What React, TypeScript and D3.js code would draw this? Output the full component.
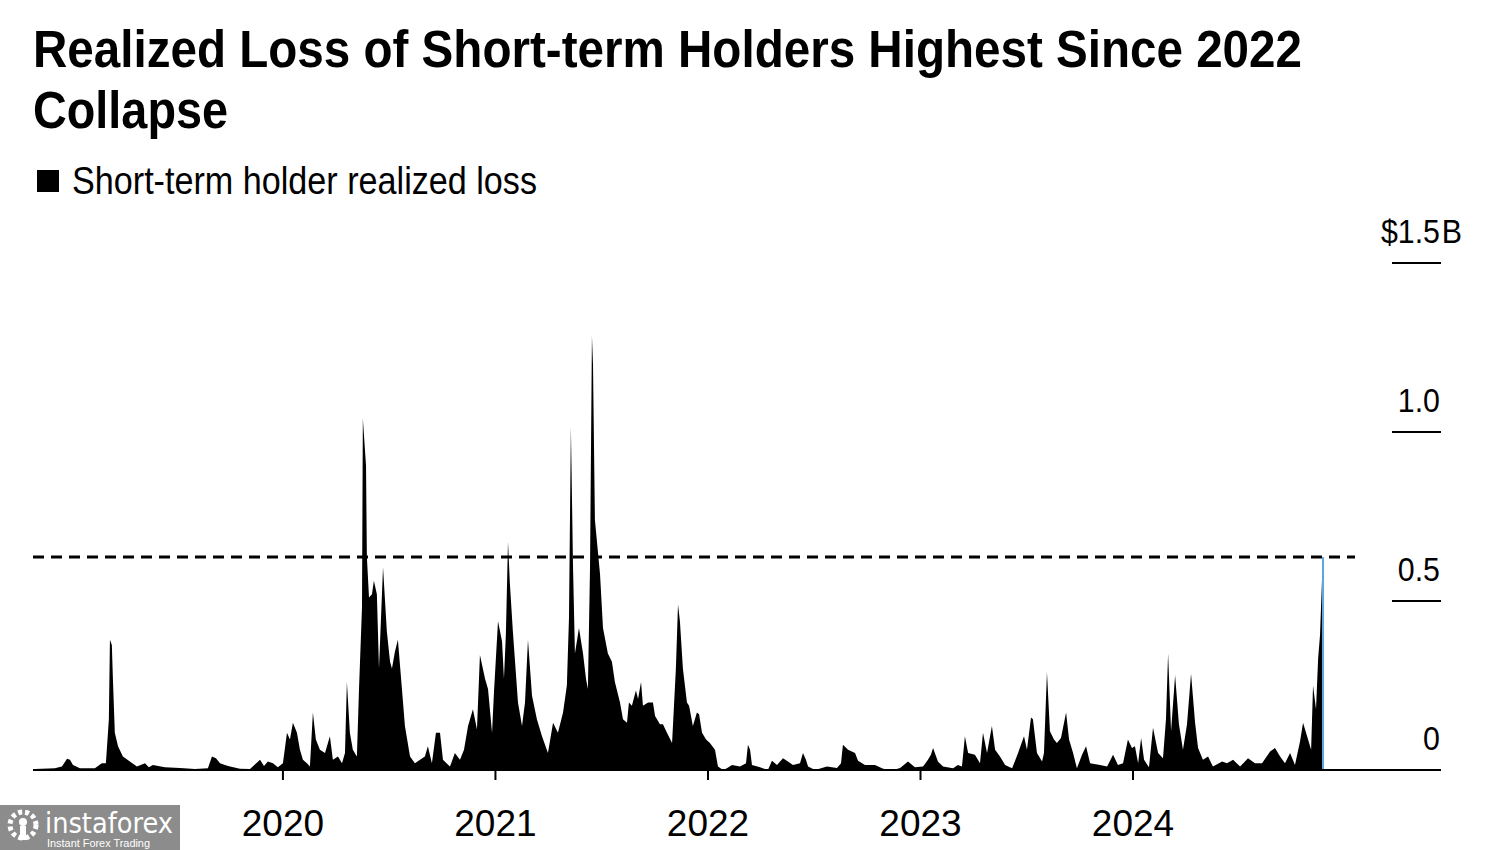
import React from "react";
import * as d3 from "d3";

// ---- Data (decimal year, realized loss in $B) ----
const loss2019: [number, number][] = [
  [2018.833, 0.003], [2018.927, 0.005], [2018.96, 0.01], [2018.984, 0.033], [2018.998, 0.03], [2019.012, 0.015],
  [2019.045, 0.005], [2019.115, 0.005], [2019.148, 0.02], [2019.167, 0.02], [2019.181, 0.15], [2019.186, 0.385],
  [2019.195, 0.37], [2019.2, 0.27], [2019.209, 0.11], [2019.224, 0.07], [2019.247, 0.04], [2019.28, 0.025],
  [2019.313, 0.01], [2019.351, 0.02], [2019.369, 0.008], [2019.388, 0.015], [2019.445, 0.008], [2019.515, 0.006],
  [2019.586, 0.003], [2019.647, 0.005], [2019.666, 0.04], [2019.685, 0.035], [2019.704, 0.02], [2019.727, 0.015],
  [2019.751, 0.01], [2019.798, 0.004], [2019.845, 0.003], [2019.892, 0.03], [2019.911, 0.012], [2019.929, 0.025],
  [2019.953, 0.02], [2019.976, 0.008],
];
const loss2020: [number, number][] = [
  [2020.0, 0.02], [2020.019, 0.11], [2020.033, 0.09], [2020.047, 0.14], [2020.066, 0.11], [2020.08, 0.06],
  [2020.094, 0.03], [2020.113, 0.02], [2020.127, 0.01], [2020.141, 0.17], [2020.155, 0.09], [2020.174, 0.06],
  [2020.198, 0.05], [2020.221, 0.1], [2020.235, 0.03], [2020.259, 0.04], [2020.278, 0.02], [2020.292, 0.05],
  [2020.301, 0.26], [2020.315, 0.11], [2020.329, 0.06], [2020.348, 0.04], [2020.358, 0.24], [2020.372, 0.48],
  [2020.376, 1.04], [2020.391, 0.9], [2020.395, 0.63], [2020.405, 0.51], [2020.419, 0.52], [2020.428, 0.56],
  [2020.442, 0.52], [2020.452, 0.3], [2020.471, 0.6], [2020.489, 0.41], [2020.504, 0.32], [2020.513, 0.3],
  [2020.527, 0.35], [2020.541, 0.385], [2020.56, 0.24], [2020.574, 0.13], [2020.598, 0.04], [2020.621, 0.02],
  [2020.645, 0.03], [2020.668, 0.04], [2020.682, 0.07], [2020.701, 0.02], [2020.72, 0.11], [2020.739, 0.11],
  [2020.753, 0.03], [2020.786, 0.01], [2020.809, 0.05], [2020.833, 0.03], [2020.852, 0.06], [2020.871, 0.13],
  [2020.894, 0.18], [2020.913, 0.12], [2020.927, 0.34], [2020.951, 0.27], [2020.965, 0.24], [2020.984, 0.11],
  [2020.993, 0.23],
];
const loss2021: [number, number][] = [
  [2021.012, 0.44], [2021.031, 0.38], [2021.04, 0.27], [2021.049, 0.4], [2021.059, 0.675], [2021.068, 0.55],
  [2021.082, 0.41], [2021.106, 0.2], [2021.125, 0.13], [2021.139, 0.2], [2021.153, 0.385], [2021.172, 0.22],
  [2021.195, 0.15], [2021.219, 0.1], [2021.247, 0.05], [2021.271, 0.14], [2021.294, 0.11], [2021.318, 0.17],
  [2021.336, 0.25], [2021.346, 0.45], [2021.355, 1.015], [2021.365, 0.6], [2021.374, 0.345], [2021.393, 0.42],
  [2021.412, 0.345], [2021.426, 0.27], [2021.435, 0.24], [2021.445, 0.6], [2021.454, 1.285], [2021.459, 1.2],
  [2021.468, 0.74], [2021.492, 0.58], [2021.506, 0.42], [2021.529, 0.345], [2021.548, 0.32], [2021.562, 0.26],
  [2021.586, 0.2], [2021.6, 0.15], [2021.619, 0.14], [2021.628, 0.2], [2021.642, 0.19], [2021.661, 0.235],
  [2021.671, 0.21], [2021.685, 0.26], [2021.694, 0.19], [2021.718, 0.2], [2021.741, 0.2], [2021.751, 0.16],
  [2021.774, 0.135], [2021.788, 0.135], [2021.807, 0.11], [2021.831, 0.08], [2021.849, 0.3], [2021.859, 0.49],
  [2021.868, 0.44], [2021.882, 0.3], [2021.901, 0.2], [2021.911, 0.19], [2021.929, 0.13], [2021.948, 0.17],
  [2021.958, 0.165], [2021.972, 0.11], [2021.991, 0.09],
];
const loss2022: [number, number][] = [
  [2022.009, 0.08], [2022.033, 0.06], [2022.047, 0.01], [2022.071, 0.0], [2022.089, 0.005], [2022.113, 0.015],
  [2022.151, 0.01], [2022.179, 0.02], [2022.188, 0.075], [2022.198, 0.06], [2022.207, 0.015], [2022.245, 0.008],
  [2022.282, 0.0], [2022.301, 0.027], [2022.325, 0.015], [2022.353, 0.035], [2022.376, 0.025], [2022.4, 0.015],
  [2022.433, 0.02], [2022.447, 0.05], [2022.461, 0.03], [2022.471, 0.01], [2022.504, 0.0], [2022.56, 0.01],
  [2022.607, 0.006], [2022.626, 0.02], [2022.635, 0.075], [2022.659, 0.06], [2022.692, 0.05], [2022.706, 0.027],
  [2022.739, 0.015], [2022.786, 0.015], [2022.824, 0.004], [2022.871, 0.0], [2022.904, 0.006], [2022.941, 0.025],
  [2022.974, 0.008],
];
const loss2023: [number, number][] = [
  [2023.012, 0.01], [2023.035, 0.03], [2023.049, 0.045], [2023.059, 0.065], [2023.082, 0.025], [2023.106, 0.01],
  [2023.153, 0.005], [2023.176, 0.015], [2023.195, 0.01], [2023.209, 0.1], [2023.224, 0.05], [2023.256, 0.045],
  [2023.28, 0.02], [2023.294, 0.11], [2023.313, 0.05], [2023.336, 0.13], [2023.351, 0.06], [2023.374, 0.04],
  [2023.398, 0.015], [2023.431, 0.005], [2023.459, 0.05], [2023.487, 0.1], [2023.501, 0.06], [2023.52, 0.155],
  [2023.529, 0.15], [2023.548, 0.05], [2023.572, 0.025], [2023.581, 0.05], [2023.595, 0.29], [2023.609, 0.115],
  [2023.628, 0.09], [2023.642, 0.08], [2023.661, 0.095], [2023.685, 0.17], [2023.699, 0.09], [2023.718, 0.05],
  [2023.736, 0.005], [2023.76, 0.045], [2023.779, 0.07], [2023.798, 0.02], [2023.845, 0.015], [2023.878, 0.01],
  [2023.906, 0.045], [2023.929, 0.015], [2023.953, 0.02], [2023.976, 0.09], [2023.995, 0.065],
];
const loss2024: [number, number][] = [
  [2024.009, 0.07], [2024.024, 0.02], [2024.038, 0.095], [2024.052, 0.03], [2024.075, 0.008], [2024.094, 0.125],
  [2024.118, 0.05], [2024.141, 0.035], [2024.155, 0.15], [2024.165, 0.345], [2024.179, 0.115], [2024.198, 0.28],
  [2024.216, 0.135], [2024.235, 0.06], [2024.254, 0.135], [2024.273, 0.285], [2024.292, 0.14], [2024.306, 0.065],
  [2024.329, 0.03], [2024.353, 0.04], [2024.376, 0.01], [2024.419, 0.025], [2024.442, 0.02], [2024.471, 0.03],
  [2024.504, 0.01], [2024.541, 0.035], [2024.574, 0.02], [2024.607, 0.02], [2024.645, 0.055], [2024.668, 0.065],
  [2024.692, 0.04], [2024.715, 0.02], [2024.739, 0.05], [2024.762, 0.015], [2024.786, 0.085], [2024.8, 0.14],
  [2024.819, 0.1], [2024.838, 0.06], [2024.847, 0.25], [2024.861, 0.18], [2024.871, 0.33], [2024.88, 0.4],
  [2024.889, 0.56], [2024.894, 0.63],
];

const yearTicks = [2020, 2021, 2022, 2023, 2024];
const valueTicks = [0, 0.5, 1.0, 1.5];
const valueTickLabels = ["0", "0.5", "1.0", "$1.5"];
const valueUnit = "B";
const title1 = "Realized Loss of Short-term Holders Highest Since 2022";
const title2 = "Collapse";
const legendLabel = "Short-term holder realized loss";

const FONT = "'Liberation Sans', Arial, Helvetica, sans-serif";

export default function App() {
  const W = 1500, H = 850;
  const series = [...loss2019, ...loss2020, ...loss2021, ...loss2022, ...loss2023, ...loss2024];
  const last = series[series.length - 1];

  const x = d3.scaleLinear().domain([2018.824, 2025.435]).range([33, 1438]);
  const y = d3.scaleLinear().domain([0, 1.5]).range([770, 263]);

  const area = d3.area<[number, number]>()
    .x((d) => x(d[0]))
    .y0(y(0))
    .y1((d) => y(d[1]))
    .curve(d3.curveLinear);

  return (
    <svg width={W} height={H} style={{ position: "absolute", left: 0, top: 0, background: "#fff" }}
      fontFamily={FONT}>
      <rect width={W} height={H} fill="#fff" />
      {/* Title */}
      <text x={33} y={67} fontSize={51} fontWeight="bold" textLength={1269} lengthAdjust="spacingAndGlyphs">{title1}</text>
      <text x={33} y={128} fontSize={51} fontWeight="bold" textLength={195} lengthAdjust="spacingAndGlyphs">{title2}</text>
      {/* Legend */}
      <rect x={37} y={170} width={22} height={22} fill="#000" />
      <text x={72} y={194} fontSize={38} textLength={465} lengthAdjust="spacingAndGlyphs">{legendLabel}</text>

      {/* Y ticks (right side) */}
      {valueTicks.map((v, i) => (
        <g key={v}>
          <line x1={1392} x2={1441} y1={y(v)} y2={y(v)} stroke="#000" strokeWidth={2} />
          <g transform={`translate(1440,${y(v) - 20}) scale(0.92,1)`}>
            <text x={0} y={0} fontSize={33} textAnchor="end">{valueTickLabels[i]}</text>
            {i === valueTicks.length - 1 && (
              <text x={2} y={0} fontSize={33}>{valueUnit}</text>
            )}
          </g>
        </g>
      ))}

      {/* Area */}
      <path d={area(series) || ""} fill="#000" />

      {/* Dashed reference at latest level */}
      <line x1={33} x2={1355} y1={y(last[1])} y2={y(last[1])} stroke="#000" strokeWidth={3} strokeDasharray="11 7" />

      {/* Latest highlighted */}
      <line x1={x(last[0])} x2={x(last[0])} y1={y(0)} y2={y(last[1])} stroke="#5aa7e6" strokeWidth={2} />

      {/* Baseline */}
      <line x1={33} x2={1438} y1={y(0)} y2={y(0)} stroke="#000" strokeWidth={2} />
      {yearTicks.map((t) => (
        <g key={t}>
          <line x1={x(t)} x2={x(t)} y1={y(0)} y2={y(0) + 10} stroke="#000" strokeWidth={2} />
          <text x={x(t)} y={836} fontSize={37} textAnchor="middle">{t}</text>
        </g>
      ))}

      {/* Watermark */}
      <g>
        <rect x={0} y={805} width={180} height={45} fill="#8c8c8c" />
        <circle cx={23} cy={825} r={13} fill="none" stroke="#fff" strokeWidth={5} strokeDasharray="4 3" />
        <circle cx={23} cy={822} r={4} fill="#fff" />
        <rect x={20} y={826} width={6} height={14} fill="#fff" />
        <text x={45} y={833} fontSize={28} fill="#fff" fontFamily="'DejaVu Sans', sans-serif" textLength={128} lengthAdjust="spacingAndGlyphs">instaforex</text>
        <text x={47} y={847} fontSize={10} fill="#fff" textLength={103} lengthAdjust="spacingAndGlyphs">Instant Forex Trading</text>
      </g>
    </svg>
  );
}
